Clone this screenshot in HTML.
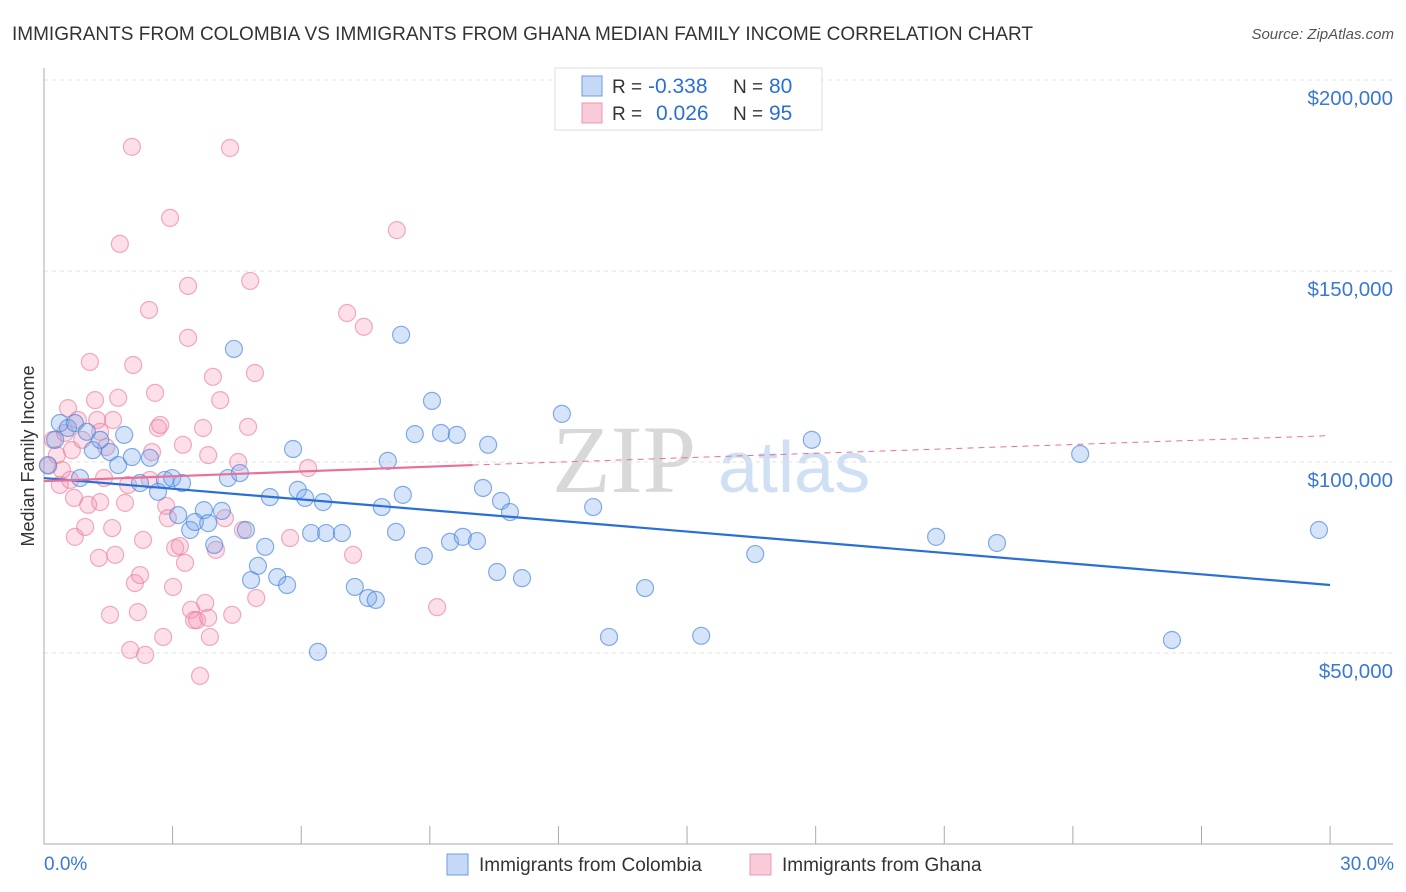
<!DOCTYPE html>
<html><head><meta charset="utf-8"><style>
body{margin:0;background:#fff;font-family:"Liberation Sans",sans-serif}
svg{display:block}
</style></head><body>
<svg id="c" width="1406" height="892" xmlns="http://www.w3.org/2000/svg">
<text x="12" y="40" font-size="19" textLength="1021" fill="#333">IMMIGRANTS FROM COLOMBIA VS IMMIGRANTS FROM GHANA MEDIAN FAMILY INCOME CORRELATION CHART</text>
<text x="1394" y="39" font-size="15" fill="#555" font-style="italic" text-anchor="end">Source: ZipAtlas.com</text>
<g><text x="552" y="492" font-size="96" fill="#d8d8d8" font-family="Liberation Serif">ZIP</text><text x="718" y="492" font-size="72" fill="#cfe0f5">atlas</text></g>
<g id="grid"></g><g id="axes"></g><g id="pts"></g><g id="lines"></g>
<text transform="translate(34,456) rotate(-90)" font-size="18" fill="#333" text-anchor="middle">Median Family Income</text>
<g>
<rect x="555" y="68" width="267" height="62" fill="#fff" stroke="#ddd"/>
<rect x="582" y="76" width="20" height="20" fill="#c5d9f6" stroke="#6a9be3"/>
<rect x="582" y="103" width="20" height="20" fill="#f9cbd8" stroke="#ec9ab4"/>
<text x="612" y="93" font-size="19" fill="#333">R =</text><text x="648" y="93" font-size="21" fill="#2a6fd6">-0.338</text>
<text x="733" y="93" font-size="19" fill="#333">N =</text><text x="769" y="93" font-size="21" fill="#2a6fd6">80</text>
<text x="612" y="120" font-size="19" fill="#333">R =</text><text x="656" y="120" font-size="21" fill="#2a6fd6">0.026</text>
<text x="733" y="120" font-size="19" fill="#333">N =</text><text x="769" y="120" font-size="21" fill="#2a6fd6">95</text>
</g>
<g>
<rect x="447" y="854" width="21" height="21" fill="#c5d9f6" stroke="#6a9be3"/>
<text x="479" y="871" font-size="19" fill="#333">Immigrants from Colombia</text>
<rect x="750" y="854" width="21" height="21" fill="#f9cbd8" stroke="#ec9ab4"/>
<text x="782" y="871" font-size="19" fill="#333">Immigrants from Ghana</text>
</g>
</svg>
<script>
const blueX=[0.37,0.56,0.72,1.00,1.14,1.31,1.54,1.73,1.87,2.05,2.24,2.47,2.66,2.82,2.99,3.22,3.13,3.41,3.52,3.73,3.83,3.97,4.15,4.29,4.43,4.57,4.71,4.83,4.99,5.16,5.27,5.44,5.67,5.81,5.92,6.09,6.23,6.39,6.51,6.58,6.95,7.25,7.56,7.74,7.88,8.02,8.21,8.33,8.37,8.65,8.86,9.05,9.26,9.47,9.63,9.77,10.10,10.24,10.36,10.57,10.66,10.87,11.15,12.08,12.81,13.18,14.02,15.33,16.59,17.91,20.81,22.23,24.17,26.31,29.74,0.84,0.26,0.09];
const blueY=[110.2,108.9,110.2,107.9,103.1,105.8,102.6,99.2,107.1,101.3,94.5,101.1,92.2,95.3,95.8,94.5,86.1,82.2,84.3,87.4,84.0,78.3,87.2,95.8,129.6,97.1,82.2,69.1,72.8,77.8,90.8,69.9,67.8,103.4,92.7,90.6,81.4,50.3,89.5,81.4,81.4,67.3,64.4,63.9,88.2,100.3,81.7,133.3,91.4,107.3,75.4,116.0,107.6,79.1,107.1,80.4,79.3,93.2,104.5,71.2,89.8,86.9,69.6,112.6,88.2,54.2,67.0,54.5,75.9,105.8,80.4,78.8,102.1,53.4,82.2,95.8,105.8,99.2];
const pinkX=[0.21,0.30,0.42,0.49,0.56,0.65,0.70,0.72,0.79,0.89,0.96,1.03,1.07,1.19,1.24,1.28,1.31,1.40,1.45,1.54,1.59,1.66,1.73,1.77,1.89,1.96,2.01,2.05,2.08,2.12,2.19,2.24,2.31,2.36,2.45,2.52,2.59,2.66,2.71,2.78,2.85,2.89,2.94,3.01,3.06,3.17,3.29,3.36,3.36,3.43,3.50,3.57,3.64,3.76,3.83,3.87,3.83,3.94,4.01,4.11,4.22,4.34,4.39,4.53,4.64,4.76,4.81,4.92,4.95,5.74,6.16,7.07,7.21,7.46,8.23,9.17,3.71,3.24,1.61,2.47,1.31,0.37,0.61,0.10];
const pinkY=[105.8,101.8,97.9,107.6,114.1,103.1,90.6,80.4,111.0,105.8,83.0,88.8,126.2,116.2,111.0,74.9,107.9,95.8,103.9,60.0,82.7,75.7,116.8,157.1,89.3,94.0,50.8,182.5,125.4,68.3,60.7,70.4,79.6,49.5,139.8,102.6,118.1,108.9,109.7,54.2,88.5,85.3,163.9,67.3,77.5,78.0,73.6,146.1,132.5,61.3,58.6,58.6,44.0,63.1,59.2,54.2,101.8,122.3,77.0,116.2,85.3,182.2,60.0,100.0,82.2,109.2,147.4,123.3,64.4,80.1,98.4,139.0,75.7,135.4,160.7,62.0,108.9,104.5,111.0,95.3,89.5,94.0,95.3,99.0];
const blueTrend=[95.8,67.8];
const pinkTrend=[95.0,99.2,106.9];
const yTicks=[50,100,150,200];
const yTickLabels=["$50,000","$100,000","$150,000","$200,000"];
const xTicks=[0,3,6,9,12,15,18,21,24,27,30];

const X=v=>44+v*42.87, Y=v=>844-v*3.82;
const NS="http://www.w3.org/2000/svg";
function mk(t,a,p){const e=document.createElementNS(NS,t);for(const k in a)e.setAttribute(k,a[k]);p.appendChild(e);return e;}
const gridG=document.getElementById('grid'),axesG=document.getElementById('axes'),ptsG=document.getElementById('pts'),linesG=document.getElementById('lines');
yTicks.forEach((t,i)=>{
 const g=mk('line',{x1:44,x2:1393,y1:Y(t),y2:Y(t),stroke:'#e2e2e2','stroke-dasharray':'4,4'},gridG);
 
 
 const l=mk('text',{x:1393,y:Y(t)+25,'font-size':20.5,fill:'#3a78d6','text-anchor':'end'},axesG);
 l.textContent=yTickLabels[i];
 
 
});
const yAxis=mk('line',{x1:44,x2:44,y1:68,y2:844,stroke:'#aaa'},axesG);


const xAxis=mk('line',{x1:44,x2:1393,y1:844,y2:844,stroke:'#aaa'},axesG);


xTicks.forEach(t=>{const k=mk('line',{x1:X(t),x2:X(t),y1:826,y2:844,stroke:'#aaa'},axesG);
 
 });
const xl=mk('text',{x:44,y:870,'font-size':19,fill:'#3a78d6'},axesG);xl.textContent='0.0%';


const xr=mk('text',{x:1394,y:870,'font-size':19,fill:'#3a78d6','text-anchor':'end'},axesG);xr.textContent='30.0%';


pinkX.forEach((x,i)=>{const c=mk('circle',{cx:X(x),cy:Y(pinkY[i]),r:8.5,fill:'rgba(244,150,178,0.3)',stroke:'rgba(232,120,155,0.6)','stroke-width':1.2},ptsG);
 
 });
blueX.forEach((x,i)=>{const c=mk('circle',{cx:X(x),cy:Y(blueY[i]),r:8.5,fill:'rgba(120,165,235,0.3)',stroke:'rgba(70,130,220,0.65)','stroke-width':1.2},ptsG);
 
 });
const bl=mk('line',{x1:X(0),y1:Y(blueTrend[0]),x2:X(30),y2:Y(blueTrend[1]),stroke:'#2a6fd6','stroke-width':2.2},linesG);


const pl=mk('line',{x1:X(0),y1:Y(pinkTrend[0]),x2:X(10),y2:Y(pinkTrend[1]),stroke:'#e8719a','stroke-width':2.2},linesG);


const pd=mk('line',{x1:X(10),y1:Y(pinkTrend[1]),x2:X(30),y2:Y(pinkTrend[2]),stroke:'#e8719a','stroke-width':1,'stroke-dasharray':'6,5'},linesG);


</script>
</body></html>
